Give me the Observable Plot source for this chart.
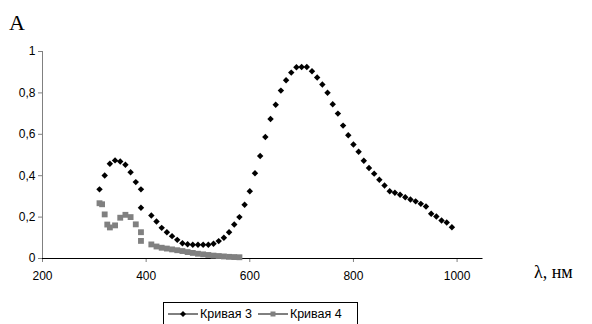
<!DOCTYPE html>
<html><head><meta charset="utf-8">
<script src="https://cdn.jsdelivr.net/npm/d3@7"></script>
<script src="https://cdn.jsdelivr.net/npm/@observablehq/plot@0.6"></script>
<style>
body{margin:0;background:#fff;}
#wrap{position:relative;width:592px;height:324px;overflow:hidden;font-family:"Liberation Sans",Arial,sans-serif;}
#ylab{position:absolute;left:9px;top:12px;font-family:"Liberation Serif","Times New Roman",serif;font-size:22px;line-height:1;}
#xlab{position:absolute;left:534px;top:263px;font-family:"Liberation Serif","Times New Roman",serif;font-size:18px;line-height:1;}
#legend{position:absolute;left:163px;top:302px;width:195px;height:30px;border:1px solid #000;box-sizing:border-box;display:flex;align-items:flex-start;padding-top:3px;padding-left:4px;font-size:12.5px;}
#legend .item{display:flex;align-items:center;margin-right:6px;}
#legend svg{display:block;margin-right:2px;}
</style></head>
<body>
<div id="wrap">
  <div id="chart"></div>
  <div id="ylab">A</div>
  <div id="xlab">λ, нм</div>
  <div id="legend"></div>
</div>
<script>
// Кривая 3
const wl3 = [310,320,330,340,350,360,370,380,390,390,410,420,430,440,450,460,470,480,490,500,510,520,530,540,550,560,570,580,590,600,610,620,630,640,650,660,670,680,690,700,710,720,730,740,750,760,770,780,790,800,810,820,830,840,850,860,870,880,890,900,910,920,930,940,950,960,970,980,990];
const a3  = [0.334,0.401,0.458,0.474,0.469,0.453,0.417,0.369,0.334,0.245,0.208,0.179,0.148,0.127,0.108,0.090,0.074,0.069,0.066,0.066,0.066,0.066,0.071,0.084,0.100,0.127,0.164,0.200,0.260,0.325,0.412,0.495,0.587,0.674,0.743,0.811,0.861,0.898,0.924,0.925,0.925,0.905,0.874,0.841,0.801,0.745,0.700,0.642,0.595,0.551,0.516,0.472,0.437,0.410,0.380,0.353,0.325,0.318,0.308,0.296,0.285,0.276,0.264,0.251,0.216,0.203,0.184,0.174,0.151];
// Кривая 4
const wl4 = [310,315,320,325,330,340,350,360,370,380,390,390,410,420,430,440,450,460,470,480,490,500,510,520,530,540,550,560,570,580];
const a4  = [0.267,0.262,0.213,0.164,0.150,0.160,0.197,0.211,0.200,0.165,0.127,0.085,0.068,0.058,0.052,0.048,0.044,0.040,0.036,0.031,0.027,0.023,0.020,0.017,0.014,0.012,0.010,0.008,0.007,0.006];
const seriesNames = ["Кривая 3","Кривая 4"];
const xTicks = [200,400,600,800,1000];
const yTicks = [0,0.2,0.4,0.6,0.8,1];

const d3data = wl3.map((x,i)=>({x, y:a3[i]}));
const d4data = wl4.map((x,i)=>({x, y:a4[i]}));

const chart = Plot.plot({
  width: 592, height: 324,
  marginLeft: 42, marginRight: 109.5, marginTop: 51, marginBottom: 66,
  style: {fontFamily: '"Liberation Sans", Arial, sans-serif', fontSize: "12px", background: "#fff"},
  x: {domain: [200, 1050]},
  y: {domain: [0, 1]},
  marks: [
    Plot.ruleX([200], {stroke: "#808080"}),
    Plot.axisY({ticks: yTicks, tickSize: 4, tickPadding: 3, stroke: "#808080", fill: "#000",
      tickFormat: d => String(d).replace(".", ","), label: null}),
    Plot.axisX({ticks: xTicks, tickSize: 4, tickPadding: 9, stroke: "#808080", fill: "#000",
      tickFormat: d => String(d), label: null}),
    Plot.ruleY([0], {stroke: "#000"}),
    Plot.dot(d4data, {x: "x", y: "y", symbol: "square", r: 3.3, fill: "#808080", stroke: null}),
    Plot.dot(d3data, {x: "x", y: "y", symbol: "diamond2", r: 2.9, fill: "#000", stroke: null})
  ]
});
document.getElementById("chart").appendChild(chart);

// legend
const leg = document.getElementById("legend");
const syms = [
  {color:"#000", shape:"diamond"},
  {color:"#808080", shape:"square"}
];
seriesNames.forEach((name,i)=>{
  const item = document.createElement("div");
  item.className = "item";
  const ns = "http://www.w3.org/2000/svg";
  const svg = document.createElementNS(ns,"svg");
  svg.setAttribute("width","30"); svg.setAttribute("height","16");
  const line = document.createElementNS(ns,"line");
  line.setAttribute("x1","0"); line.setAttribute("x2","30");
  line.setAttribute("y1","8"); line.setAttribute("y2","8");
  line.setAttribute("stroke","#000"); line.setAttribute("stroke-width","1");
  svg.appendChild(line);
  const p = document.createElementNS(ns,"path");
  if (syms[i].shape==="diamond") p.setAttribute("d","M15,5L18,8L15,11L12,8Z");
  else p.setAttribute("d","M12.5,5.5h5v5h-5Z");
  p.setAttribute("fill", syms[i].color);
  svg.appendChild(p);
  item.appendChild(svg);
  const t = document.createElement("span");
  t.textContent = name;
  item.appendChild(t);
  leg.appendChild(item);
});
</script>
</body></html>
